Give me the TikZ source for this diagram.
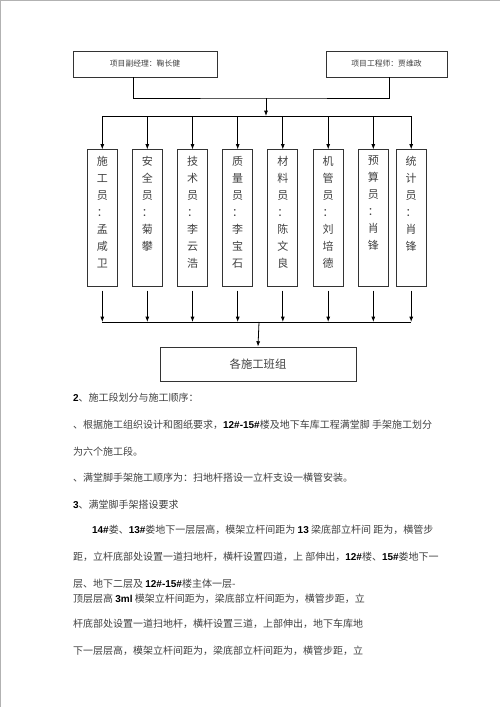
\documentclass[tikz,border=0pt]{standalone}
\usepackage{fontspec}
\setmainfont{Noto Sans CJK SC}
\newfontfamily\latinf{Liberation Sans}
\usetikzlibrary{positioning}
\usetikzlibrary{calc}
\usetikzlibrary{arrows.meta}
\newcommand{\ltn}[1]{{\latinf\bfseries\color{black}#1}}
\tikzset{
    arr/.style={-{Latex[length=4pt,width=3pt]}},
    headbox/.style={draw=black!80, line width=0.6pt, minimum height=19.5pt, inner sep=0pt,
        text=black!75, font=\fontsize{5.85}{7}\selectfont},
    staffbox/.style={draw=black!80, line width=0.6pt, minimum width=22.5pt, minimum height=102.75pt, inner sep=0pt},
    vtext/.style={align=center, inner sep=0pt, text=black!75, font=\fontsize{8.25}{12.75}\selectfont},
    para/.style={anchor=base west, inner sep=0pt, text=black!75, font=\fontsize{7.5}{9}\selectfont}
}
\begin{document}
\begin{tikzpicture}[x=0.75pt, y=-0.75pt, line width=0.6pt]
            \useasboundingbox (0,0) rectangle (500,707);
            % page edge
            \draw[black!30, line width=0.75pt] (0.5,707) -- (0.5,0.5) -- (500,0.5);

            % Project leaders
            \node[headbox, minimum width=108pt] (pm) at (145,64) {项目副经理：鞠长健};
            \node[headbox, minimum width=90.75pt] (eng) at (386.5,64) {项目工程师：贾维政};
            \coordinate (jt) at (266,98);
            \coordinate (jb) at (266,116);
            \draw ($(pm.south)+(-12,0)$) |- (jt) -| ($(eng.south)+(2.5,0)$);
            \draw[arr] (jt) -- (jb);

            % Staff
            \foreach \i/\x/\txt in {1/102.3/{施\\工\\员\\：\\孟\\咸\\卫},
                                    2/147.3/{安\\全\\员\\：\\菊\\攀},
                                    3/192.5/{技\\术\\员\\：\\李\\云\\浩},
                                    4/237.7/{质\\量\\员\\：\\李\\宝\\石},
                                    5/282.8/{材\\料\\员\\：\\陈\\文\\良},
                                    6/328.2/{机\\管\\员\\：\\刘\\培\\德},
                                    7/373.3/{预\\算\\员\\：\\肖\\锋},
                                    8/411.2/{统\\计\\员\\：\\肖\\锋}} {
                \node[staffbox] (s\i) at (\x,218.3) {};
                \node[vtext, below=4.6pt of s\i.north] (v\i) {\txt};
                \draw[arr] (s\i.north |- jb) -- (s\i.north);
            }
            \draw (s1.north |- jb) -- (s8.north |- jb);

            % Teams
            \coordinate (jl) at (259,322);
            \foreach \i in {1,...,8} {
                \draw[arr] ([yshift=-2.5pt]s\i.south) -- (s\i.south |- jl);
            }
            \draw (s1.south |- jl) -- (s8.south |- jl);
            \node[draw=black!80, minimum width=147pt, minimum height=25.5pt, inner sep=0pt,
                text=black!75, font=\fontsize{8.5}{10}\selectfont] (team) at (258,364) {各施工班组};
            \draw[arr] (jl) -- (team.north);

            % Text
            \foreach \n/\x/\y/\txt in {1/72.7/401.8/{\ltn{2}、施工段划分与施工顺序：},
                                       2/72.7/428.8/{、根据施工组织设计和图纸要求，\ltn{12\#-15\#}楼及地下车库工程满堂脚 手架施工划分},
                                       3/72.7/455.5/{为六个施工段。},
                                       4/72.7/481.8/{、满堂脚手架施工顺序为：扫地杆搭设一立杆支设一横管安装。},
                                       5/72.7/508.8/{\ltn{3}、满堂脚手架搭设要求},
                                       6/91.7/533.8/{\ltn{14\#}娄、\ltn{13\#}娄地下一层层高，模架立杆间距为 \ltn{13} 梁底部立杆间 距为，横管步},
                                       7/72.7/560.5/{距，立杆底部处设置一道扫地杆，横杆设置四道，上 部伸出，\ltn{12\#}楼、\ltn{15\#}娄地下一},
                                       8/72.7/587.1/{层、地下二层及 \ltn{12\#-15\#}楼主体一层-},
                                       9/72.7/602.1/{顶层层高 \ltn{3ml} 模架立杆间距为，梁底部立杆间距为，横管步距，立},
                                       10/72.7/627.8/{杆底部处设置一道扫地杆，横杆设置三道，上部伸出，地下车库地},
                                       11/72.7/654.5/{下一层层高，模架立杆间距为，梁底部立杆间距为，横管步距，立}} {
                \node[para] (t\n) at (\x,\y) {\txt};
            }
\end{tikzpicture}
\end{document}
